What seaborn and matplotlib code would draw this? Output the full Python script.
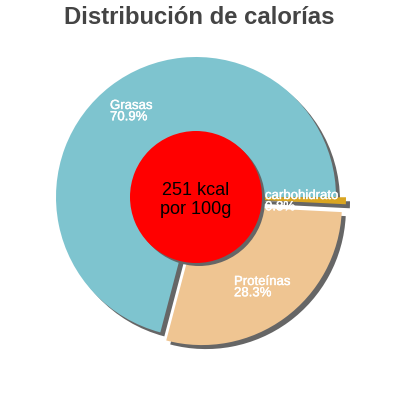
import numpy as np
import seaborn as sns
import matplotlib
matplotlib.use("Agg")
import matplotlib.pyplot as plt
import matplotlib.patheffects as pe
from matplotlib.patches import Rectangle

sns.set_theme(style="white")
plt.rcParams['font.family'] = ['Liberation Sans', 'DejaVu Sans']

# datos
nutrientes = ['Grasas', 'Proteínas', 'carbohidratos']
porcentajes = [70.9, 28.3, 0.8]
colores = ['#7ec4cf', '#efc592', '#d9a521']
separacion = [0, 10, 10]  # en pixeles (unidades del eje)
kcal_texto = '251 kcal\npor 100g'

fig = plt.figure(figsize=(4, 4), dpi=100)
ax = fig.add_axes([0, 0, 1, 1])

centro = (196, 203)
radio = 140

# sombra
ax.pie(porcentajes, explode=separacion, startangle=0, counterclock=True,
       center=(centro[0] + 4, centro[1] - 4), radius=radio,
       colors=['#666666'] * 3, frame=True, wedgeprops=dict(linewidth=0))
ax.pie(porcentajes, explode=separacion, startangle=0, counterclock=True,
       center=centro, radius=radio, colors=colores, frame=True,
       wedgeprops=dict(linewidth=0))

# circulo central
ax.pie([1], center=(centro[0] + 3, centro[1] - 3), radius=66, colors=['#666666'],
       frame=True, wedgeprops=dict(linewidth=0))
ax.pie([1], center=centro, radius=66, colors=['#ff0000'], frame=True,
       wedgeprops=dict(linewidth=0))
ax.set_xlim(0, 400)
ax.set_ylim(0, 400)
ax.set_aspect('equal')
ax.axis('off')

ax.text(centro[0], centro[1] - 3, kcal_texto, ha='center', va='center',
        fontsize=13, color='black', linespacing=1.1)

# etiquetas
pos_etiquetas = [(110, 300), (234, 124), (265, 210)]
for nom, p, (x, y) in zip(nutrientes, porcentajes, pos_etiquetas):
    t = ax.text(x, y, f'{nom}\n{p}%', ha='left', va='top', fontsize=9.5,
                color='white', linespacing=0.92,
                path_effects=[pe.withStroke(linewidth=0.3, foreground='white')])
    if nom == 'carbohidratos':
        clip = Rectangle((0, 0), 338, 400, transform=ax.transData)
        t.set_clip_on(True)
        t.set_clip_path(clip)

fig.text(0.497, 0.957, 'Distribución de calorías', ha='center', va='center',
         fontsize=17.2, fontweight='bold', color='#444444')

plt.savefig('out.png', dpi=100)
